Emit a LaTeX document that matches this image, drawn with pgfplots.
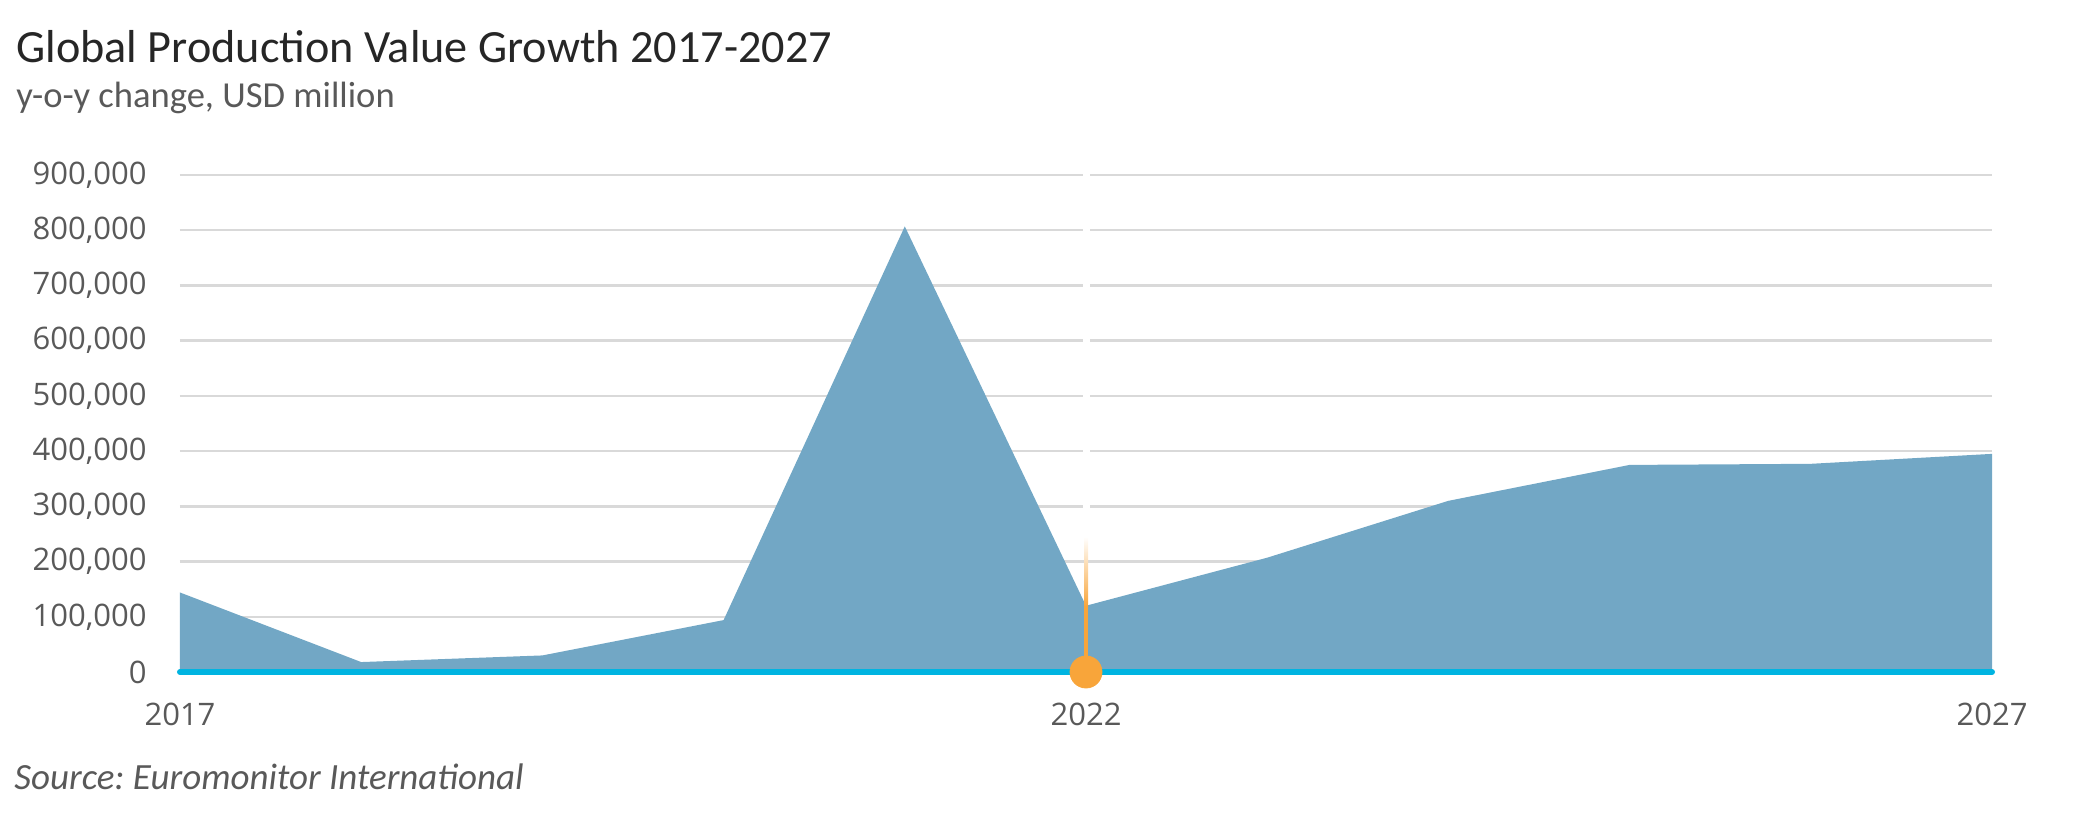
\documentclass[border=0pt]{standalone}
\usepackage{fontspec}
\setmainfont{Carlito}
\newfontfamily\tickfont{Open Sans}
\usepackage{pgfplots}
\pgfplotsset{compat=1.18}
\frenchspacing

\definecolor{areablue}{HTML}{72A7C5}
\definecolor{baseblue}{HTML}{00B4E1}
\definecolor{markorange}{HTML}{F8A53A}
\definecolor{gridgray}{HTML}{D9D9D9}
\definecolor{labelgray}{HTML}{595959}
\definecolor{titlegray}{HTML}{262626}

\begin{document}
\begin{tikzpicture}
\path[use as bounding box] (0,0) rectangle (1045pt,410.5pt);

\node[anchor=base west, inner sep=0pt, text=titlegray,
      font=\fontsize{23.1}{28}\selectfont] at (8pt,379pt)
      {Global Production Value Growth 2017-2027};
\node[anchor=base west, inner sep=0pt, text=labelgray,
      font=\fontsize{18.3}{22}\selectfont] at (8pt,356.5pt)
      {y-o-y change, USD million};
\node[anchor=base west, inner sep=0pt, text=labelgray,
      font=\fontsize{18.5}{22}\selectfont\itshape] at (7pt,16pt)
      {Source: Euromonitor International};

\begin{axis}[
  at={(90pt,74.5pt)}, anchor=south west,
  scale only axis, width=906pt, height=248.5pt,
  xmin=2017, xmax=2027, ymin=0, ymax=900000,
  clip=false,
  axis line style={draw=none},
  tick style={draw=none},
  xtick={2017,2022,2027},
  ytick={0,100000,...,900000},
  scaled y ticks=false,
  ymajorgrids,
  y grid style={gridgray, line width=1.2pt},
  tick label style={font=\fontsize{15.5}{19}\selectfont\tickfont, text=labelgray},
  x tick label style={/pgf/number format/1000 sep=, /pgf/number format/assume math mode=true,
    inner sep=0pt, anchor=north, yshift=-15.5pt},
  y tick label style={/pgf/number format/.cd, fixed, precision=0, 1000 sep={,}, assume math mode=true,
    /tikz/.cd, inner sep=0pt, anchor=east, xshift=-16.5pt},
]
% y-o-y change, USD
\addplot[draw=none, fill=areablue] coordinates {
  (2017, 144000)
  (2018, 18000)
  (2019, 30000)
  (2020, 94000)
  (2021, 807000)
  (2022, 120000)
  (2023, 207000)
  (2024, 310000)
  (2025, 375000)
  (2026, 377000)
  (2027, 395000)
} \closedcycle;

% gap in the grid at the current year
\addplot[white, line width=3.5pt] coordinates {(2022,245000) (2022,905000)};

% baseline
\addplot[baseblue, line width=3pt, line cap=round] coordinates {(2017,0) (2027,0)};

% current-year marker
\addplot[draw=none, top color=white, bottom color=markorange] coordinates {
  (2021.989,118000) (2022.011,118000) (2022.011,245000) (2021.989,245000)} -- cycle;
\addplot[markorange, line width=2pt] coordinates {(2022,0) (2022,120000)};
\addplot[only marks, mark=*, mark size=8pt, color=markorange] coordinates {(2022,0)};
\end{axis}
\end{tikzpicture}
\end{document}
